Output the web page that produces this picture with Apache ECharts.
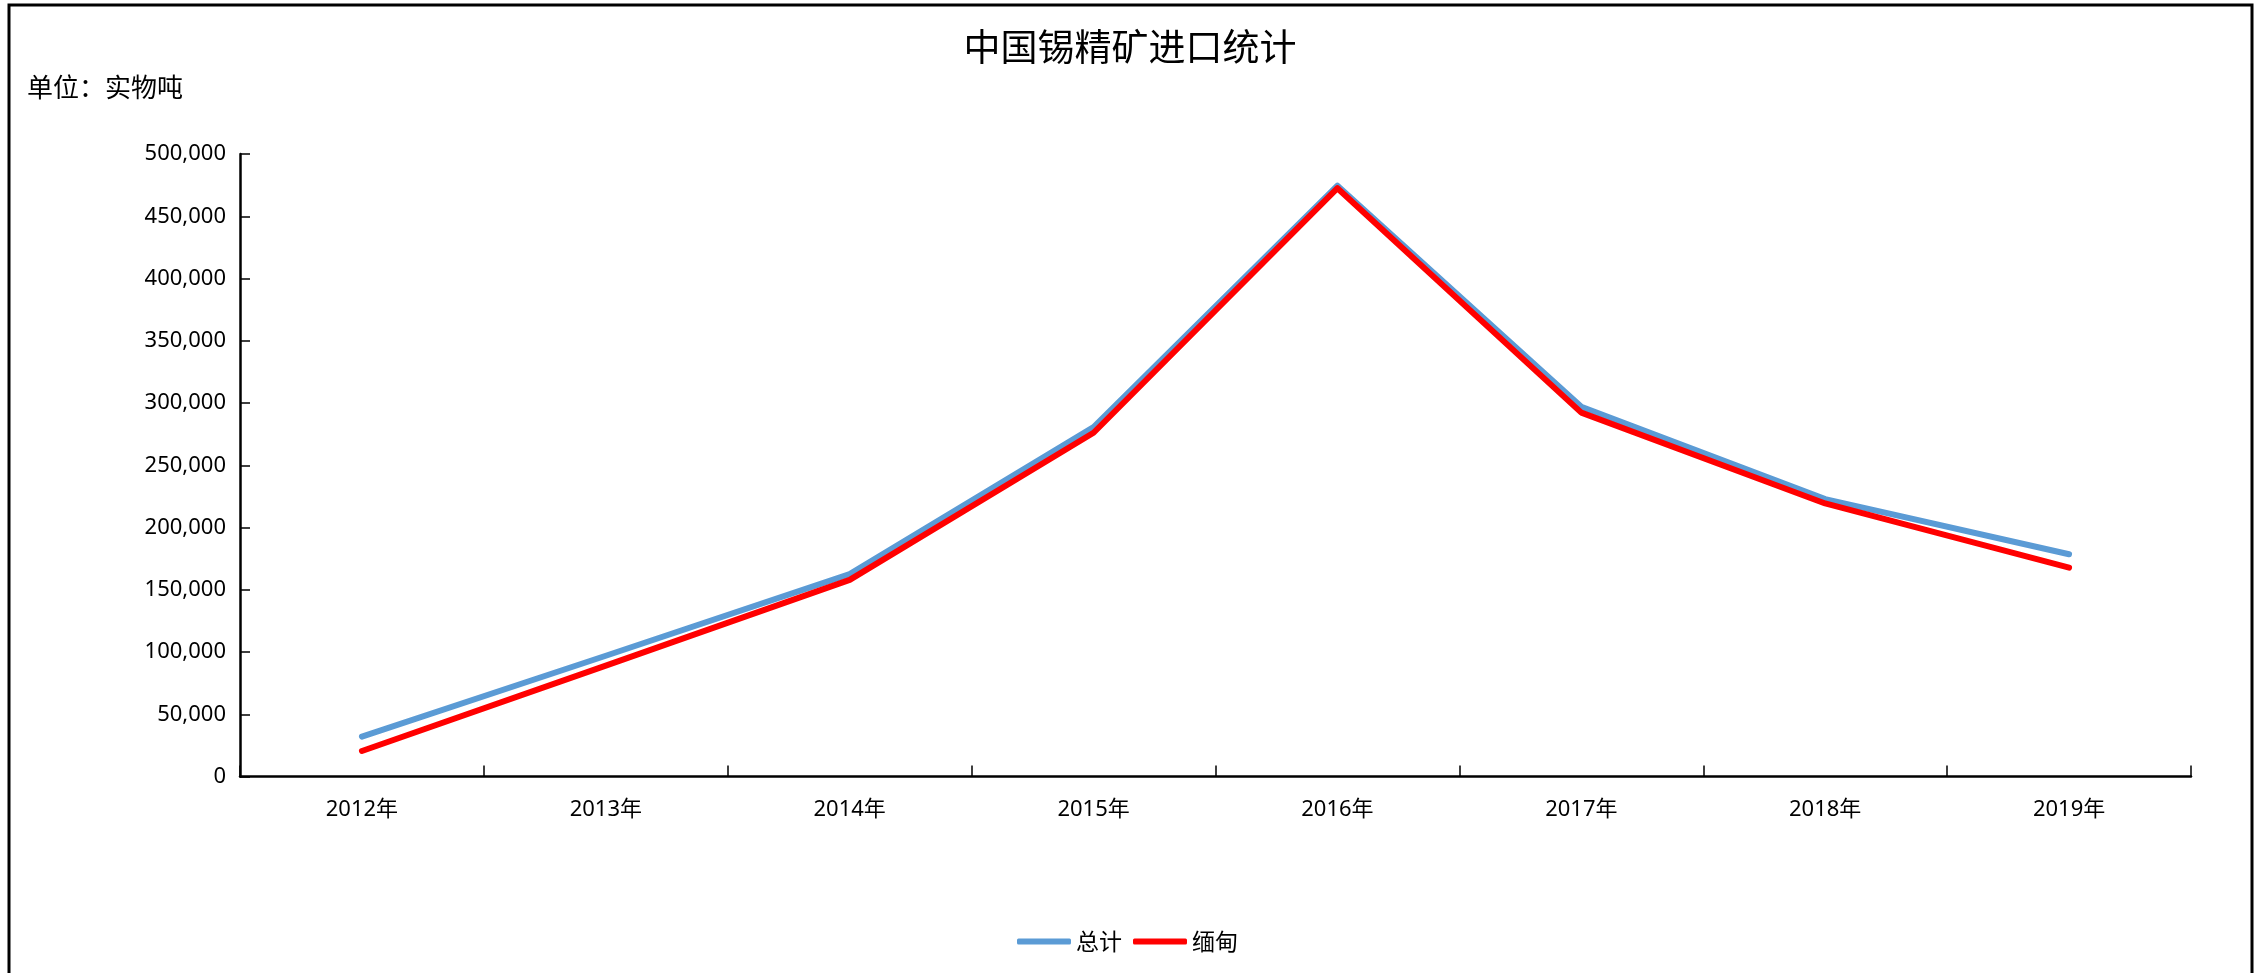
<!DOCTYPE html>
<html>
<head>
<meta charset="utf-8">
<title>中国锡精矿进口统计</title>
<script src="https://cdn.jsdelivr.net/npm/echarts@6/dist/echarts.min.js"></script>
<style>
  html, body { margin: 0; padding: 0; background: #fff; }
  #chart { width: 2262px; height: 973px; }
</style>
</head>
<body>
<div id="chart"></div>
<script>
// 数据
const years = ['2012年', '2013年', '2014年', '2015年', '2016年', '2017年', '2018年', '2019年']
const totalValues = [32000, 97000, 162500, 280700, 474500, 297000, 222800, 178500]
const myanmarValues = [20500, 89000, 157900, 276100, 472500, 292300, 219300, 167700]
const seriesNames = ['总计', '缅甸']

const cjk = '"Noto Sans CJK SC", "Noto Sans", sans-serif'
const num = '"Noto Sans", "Noto Sans CJK SC", sans-serif'

const chart = echarts.init(document.getElementById('chart'))

const option = {
  backgroundColor: '#fff',
  animation: false,
  title: [
    {
      text: '中国锡精矿进口统计',
      left: 1125,
      top: 23,
      textAlign: 'center',
      textStyle: { fontFamily: cjk, fontSize: 37, fontWeight: 'normal', color: '#000' }
    },
    {
      text: '单位：实物吨',
      left: 22,
      top: 69,
      textStyle: { fontFamily: cjk, fontSize: 26, fontWeight: 'normal', color: '#000' }
    }
  ],
  graphic: [
    {
      type: 'rect',
      shape: { x: 9, y: 5, width: 2243, height: 1000 },
      style: { fill: 'none', stroke: '#000', lineWidth: 3 },
      silent: true
    }
  ],
  legend: {
    data: seriesNames,
    left: 1012,
    top: 925,
    icon: 'roundRect',
    itemWidth: 54,
    itemHeight: 6,
    itemGap: 11,
    textStyle: { fontFamily: cjk, fontSize: 23, color: '#000' }
  },
  grid: {
    left: 240,
    right: 71,
    top: 154,
    bottom: 196.5,
    containLabel: false
  },
  xAxis: {
    type: 'category',
    data: years,
    boundaryGap: true,
    axisLine: { lineStyle: { color: '#000', width: 2.5 } },
    axisTick: { show: true, inside: true, length: 11, lineStyle: { color: '#000', width: 1.5 } },
    axisLabel: { fontFamily: num, fontSize: 22, color: '#000', margin: 22 },
    splitLine: { show: false }
  },
  yAxis: {
    type: 'value',
    min: 0,
    max: 500000,
    interval: 50000,
    axisLine: { show: true, lineStyle: { color: '#000', width: 2.5 } },
    axisTick: { show: true, inside: true, length: 10, lineStyle: { color: '#000', width: 1.5 } },
    axisLabel: {
      fontFamily: num,
      fontSize: 22,
      color: '#000',
      margin: 14,
      formatter: v => v.toLocaleString('en-US')
    },
    splitLine: { show: false }
  },
  series: [
    {
      name: seriesNames[0],
      type: 'line',
      data: totalValues,
      symbol: 'none',
      itemStyle: { color: '#5B9BD5' },
      lineStyle: { color: '#5B9BD5', width: 6, cap: 'round', join: 'round' }
    },
    {
      name: seriesNames[1],
      type: 'line',
      data: myanmarValues,
      symbol: 'none',
      itemStyle: { color: '#FF0000' },
      lineStyle: { color: '#FF0000', width: 6, cap: 'round', join: 'round' }
    }
  ]
}

chart.setOption(option)
</script>
</body>
</html>
